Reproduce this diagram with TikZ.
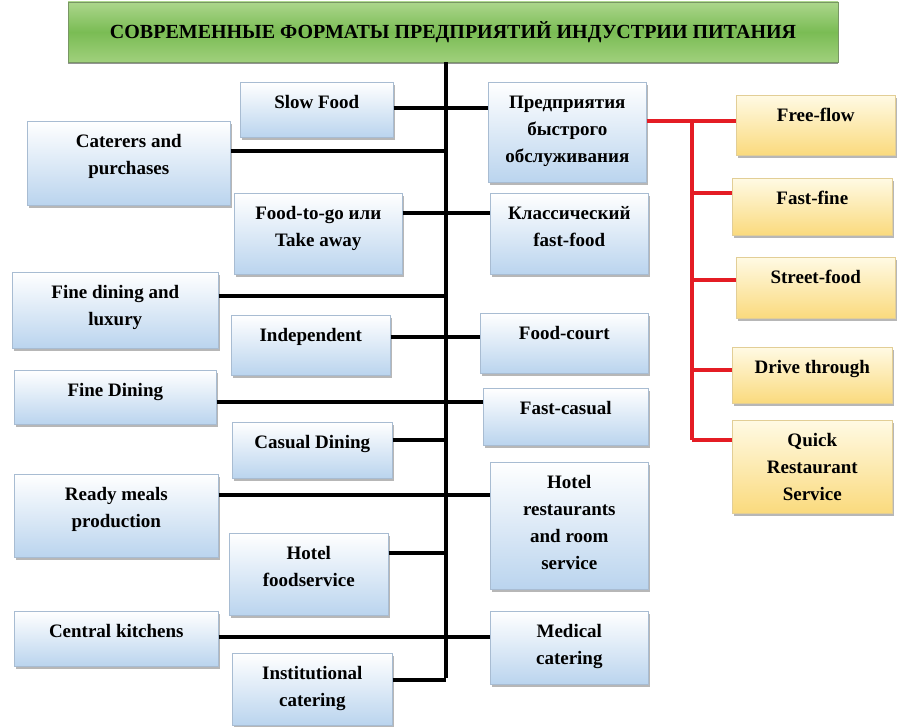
\documentclass[tikz,border=0pt]{standalone}
\usepackage{fontspec}
\setmainfont{Liberation Serif}
\usepackage{tikz}
\usetikzlibrary{positioning, shadows, calc}
\definecolor{boxblue}{RGB}{186,212,238}
\definecolor{boxedge}{RGB}{168,188,210}
\definecolor{boxyellow}{RGB}{250,218,125}
\definecolor{paleyellow}{RGB}{255,250,228}
\definecolor{yellowedge}{RGB}{226,206,150}
\definecolor{titletop}{RGB}{172,214,140}
\definecolor{titlemid}{RGB}{122,188,84}
\definecolor{titlebot}{RGB}{160,208,124}
\definecolor{titleedge}{RGB}{120,150,100}
\definecolor{branchred}{RGB}{228,28,36}

\begin{document}
\begin{tikzpicture}[x=1pt, y=-1pt,
		every node/.style={font=\fontsize{19}{27}\selectfont\bfseries},
		block/.style={draw=boxedge, line width=0.6pt, top color=white, bottom color=boxblue, anchor=north west, align=center, inner ysep=0pt, text height=26pt, drop shadow={shadow xshift=1.5pt, shadow yshift=-2.5pt, opacity=0.4, fill=black!70}},
		yellowblock/.style={block, draw=yellowedge, top color=paleyellow, bottom color=boxyellow},
		twoline/.style={text height=53pt},
		threeline/.style={text height=80pt},
		fourline/.style={text height=107pt},
		titleblock/.style={draw=titleedge, line width=0.6pt, top color=titletop, bottom color=titlebot, middle color=titlemid, minimum width=770pt, minimum height=60pt, font=\fontsize{20}{24}\selectfont\bfseries, drop shadow={shadow xshift=0pt, shadow yshift=-2.5pt, opacity=0.6, fill=black!70}},
		trunkline/.style={line width=3.2pt, black},
		redline/.style={line width=3.2pt, branchred}
	]
	\useasboundingbox (0,0) rectangle (911,727);

	% Title
	\node[titleblock] (title) at (453,32) {СОВРЕМЕННЫЕ ФОРМАТЫ ПРЕДПРИЯТИЙ ИНДУСТРИИ ПИТАНИЯ};

	% Left column
	\node[block, minimum width=153pt, text depth=29pt] (slowfood) at (240,82) {Slow Food};
	\node[block, twoline, minimum width=203pt, text depth=31pt] (caterers) at (27,121) {Caterers and\\purchases};
	\node[block, twoline, minimum width=168pt, text depth=28pt] (foodtogo) at (234,193) {Food-to-go или\\Take away};
	\node[block, twoline, minimum width=206pt, text depth=23pt] (finelux) at (12,272) {Fine dining and\\luxury};
	\node[block, minimum width=159pt, text depth=34pt] (independent) at (231,315) {Independent};
	\node[block, minimum width=202pt, text depth=28pt] (finedining) at (14,370) {Fine Dining};
	\node[block, minimum width=160pt, text depth=30pt] (casual) at (232,422) {Casual Dining};
	\node[block, twoline, minimum width=204pt, text depth=30pt] (readymeals) at (14,474) {Ready meals\\production};
	\node[block, twoline, minimum width=159pt, text depth=29pt] (hotelfood) at (229,533) {Hotel\\foodservice};
	\node[block, minimum width=204pt, text depth=29pt] (central) at (14,611) {Central kitchens};
	\node[block, twoline, minimum width=160pt, text depth=19pt] (institutional) at (232,653) {Institutional\\catering};

	% Right column
	\node[block, threeline, minimum width=158pt, text depth=20pt] (fastservice) at (488,82) {Предприятия\\быстрого\\обслуживания};
	\node[block, twoline, minimum width=158pt, text depth=28pt] (classic) at (490,193) {Классический\\fast-food};
	\node[block, minimum width=168pt, text depth=34pt] (foodcourt) at (480,313) {Food-court};
	\node[block, minimum width=165pt, text depth=31pt] (fastcasual) at (483,388) {Fast-casual};
	\node[block, fourline, minimum width=158pt, text depth=20pt] (hotelrest) at (490,462) {Hotel\\restaurants\\and room\\service};
	\node[block, twoline, minimum width=158pt, text depth=20pt] (medical) at (490,611) {Medical\\catering};

	% Quick service formats
	\node[yellowblock, minimum width=159pt, text depth=34pt] (freeflow) at (736,95) {Free-flow};
	\node[yellowblock, minimum width=160pt, text depth=31pt] (fastfine) at (732,178) {Fast-fine};
	\node[yellowblock, minimum width=159pt, text depth=35pt] (streetfood) at (736,257) {Street-food};
	\node[yellowblock, minimum width=160pt, text depth=30pt] (drive) at (732,347) {Drive through};
	\node[yellowblock, threeline, minimum width=160pt, text depth=13pt] (quick) at (732,420) {Quick\\Restaurant\\Service};

	% Trunk and row heights
	\coordinate (trunk_x) at (446,0);
	\coordinate (trunk_end) at (446,678);
	\coordinate (y_slow) at (0,108);
	\coordinate (y_caterers) at (0,151);
	\coordinate (y_togo) at (0,213);
	\coordinate (y_luxury) at (0,296);
	\coordinate (y_indep) at (0,337);
	\coordinate (y_fine) at (0,402);
	\coordinate (y_casual) at (0,440);
	\coordinate (y_ready) at (0,495);
	\coordinate (y_hotel) at (0,553);
	\coordinate (y_central) at (0,637);
	\coordinate (y_inst) at (0,680);

	\draw[trunkline] (title.south -| trunk_x) -- (trunk_end);
	\draw[trunkline] (slowfood.east |- y_slow) -- (fastservice.west |- y_slow);
	\draw[trunkline] (caterers.east |- y_caterers) -- (trunk_x |- y_caterers);
	\draw[trunkline] (foodtogo.east |- y_togo) -- (classic.west |- y_togo);
	\draw[trunkline] (finelux.east |- y_luxury) -- (trunk_x |- y_luxury);
	\draw[trunkline] (independent.east |- y_indep) -- (foodcourt.west |- y_indep);
	\draw[trunkline] (finedining.east |- y_fine) -- (fastcasual.west |- y_fine);
	\draw[trunkline] (casual.east |- y_casual) -- (trunk_x |- y_casual);
	\draw[trunkline] (readymeals.east |- y_ready) -- (hotelrest.west |- y_ready);
	\draw[trunkline] (hotelfood.east |- y_hotel) -- (trunk_x |- y_hotel);
	\draw[trunkline] (central.east |- y_central) -- (medical.west |- y_central);
	\draw[trunkline] (institutional.east |- y_inst) -- (trunk_x |- y_inst);

	% Red branch to quick service formats
	\coordinate (red_x) at (692,0);
	\coordinate (y_free) at (0,121);
	\coordinate (y_fastfine) at (0,193);
	\coordinate (y_street) at (0,280);
	\coordinate (y_drive) at (0,370);
	\coordinate (y_quick) at (0,440);

	\draw[redline] (fastservice.east |- y_free) -- (freeflow.west |- y_free);
	\draw[redline] (red_x |- y_free) -- (red_x |- y_quick);
	\draw[redline] (red_x |- y_fastfine) -- (fastfine.west |- y_fastfine);
	\draw[redline] (red_x |- y_street) -- (streetfood.west |- y_street);
	\draw[redline] (red_x |- y_drive) -- (drive.west |- y_drive);
	\draw[redline] (red_x |- y_quick) -- (quick.west |- y_quick);

\end{tikzpicture}
\end{document}
